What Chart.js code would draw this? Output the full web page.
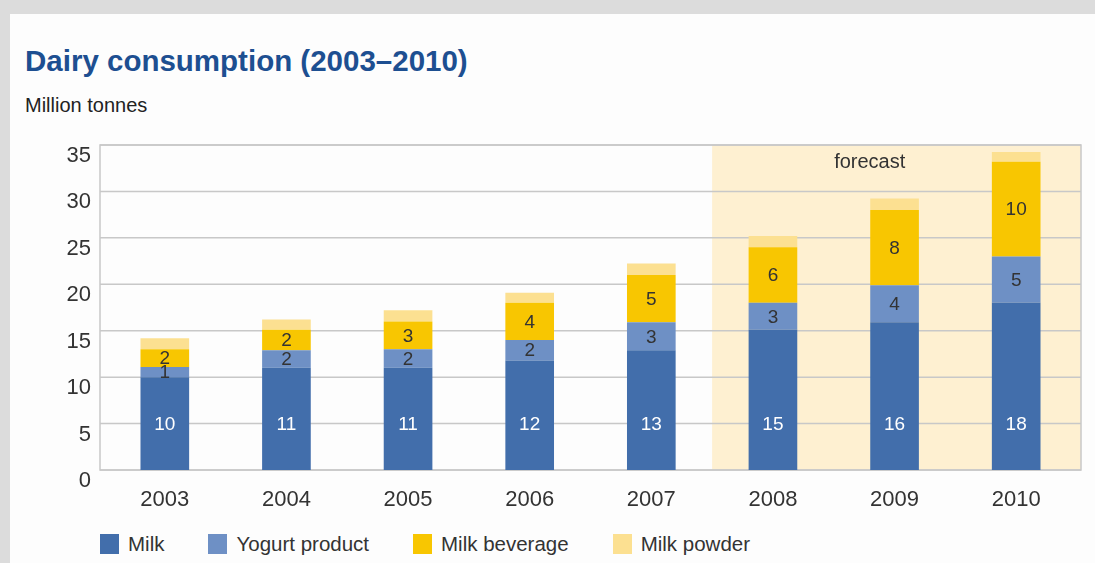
<!DOCTYPE html>
<html>
<head>
<meta charset="utf-8">
<title>Dairy consumption</title>
<script src="https://cdn.jsdelivr.net/npm/chart.js"></script>
<style>
  html, body { margin: 0; padding: 0; }
  body {
    width: 1095px; height: 563px; overflow: hidden; position: relative;
    background: #dcdcdc;
    font-family: "Liberation Sans", Arial, sans-serif;
  }
  #panel { position: absolute; left: 10px; top: 14px; right: 0; bottom: 0; background: #fdfdfd; }
  #title { position: absolute; left: 15px; top: 30px; font-size: 29.5px; font-weight: bold; color: #1d4f91; line-height: 34px; }
  #sub { position: absolute; left: 15px; top: 79px; font-size: 20px; color: #222; line-height: 24px; }
  #wrap { position: absolute; left: 0; top: 0; width: 1085px; height: 496px; }
  #legend { position: absolute; left: 90px; top: 518px; display: flex; font-size: 20.5px; color: #333; line-height: 24px; }
  #legend .item { display: flex; align-items: center; margin-right: 44px; }
  #legend .box { width: 19px; height: 20px; margin-right: 9px; }
</style>
</head>
<body>
<div id="panel">
  <div id="title">Dairy consumption (2003–2010)</div>
  <div id="sub">Million tonnes</div>
  <div id="wrap"><canvas id="chart"></canvas></div>
  <div id="legend"></div>
</div>
<script>
// categories and series (million tonnes)
const years = ['2003', '2004', '2005', '2006', '2007', '2008', '2009', '2010'];
const milk = [10, 11, 11, 11.8, 12.9, 15.1, 15.9, 18];
const yogurt = [1.1, 1.9, 2, 2.2, 3, 2.9, 4, 5];
const beverage = [1.9, 2.2, 3, 4, 5.1, 6, 8.1, 10.2];
const powder = [1.2, 1.1, 1.2, 1.1, 1.25, 1.2, 1.25, 1.05];
const yTicks = [0, 5, 10, 15, 20, 25, 30, 35];
const forecastFrom = '2008';
const milkLabelAt = 5; // milk labels all sit at this level

const seriesNames = ['Milk', 'Yogurt product', 'Milk beverage', 'Milk powder'];
const seriesColors = ['#426eab', '#6e90c5', '#f8c601', '#fce091'];
const labelColors = ['#ffffff', '#333333', '#333333', null];

const FONT = '"Liberation Sans", Arial, sans-serif';
const INSET = 4; // frame sticks out a little past the category band
const GRID = '#c8c8c8';

// forecast zone, grid and frame, all behind the bars
const backdrop = {
  id: 'backdrop',
  beforeDatasetsDraw(chart) {
    const { ctx, chartArea, scales } = chart;
    const left = chartArea.left - INSET, right = chartArea.right + INSET;
    const idx = years.indexOf(forecastFrom);
    const x0 = (scales.x.getPixelForValue(idx - 1) + scales.x.getPixelForValue(idx)) / 2;
    ctx.save();
    ctx.fillStyle = '#fef0d1';
    ctx.fillRect(x0, chartArea.top, right - x0, chartArea.bottom - chartArea.top);
    ctx.fillStyle = '#333';
    ctx.font = '20px ' + FONT;
    ctx.textAlign = 'left';
    ctx.textBaseline = 'middle';
    ctx.fillText('forecast', x0 + 122, chartArea.top + 17);

    ctx.strokeStyle = GRID;
    ctx.lineWidth = 1.5;
    yTicks.forEach(v => {
      const y = scales.y.getPixelForValue(v);
      ctx.beginPath();
      ctx.moveTo(left, y);
      ctx.lineTo(right, y);
      ctx.stroke();
    });
    ctx.strokeRect(left, chartArea.top, right - left, chartArea.bottom - chartArea.top);
    ctx.restore();
  }
};

// value labels inside the segments
const valueLabels = {
  id: 'valueLabels',
  afterDatasetsDraw(chart) {
    const { ctx, scales } = chart;
    ctx.save();
    ctx.font = '19px ' + FONT;
    ctx.textAlign = 'center';
    ctx.textBaseline = 'middle';
    chart.data.datasets.forEach((ds, di) => {
      if (!labelColors[di]) return;
      ctx.fillStyle = labelColors[di];
      chart.getDatasetMeta(di).data.forEach((bar, i) => {
        const y = di === 0 ? scales.y.getPixelForValue(milkLabelAt) : (bar.y + bar.base) / 2;
        ctx.fillText(String(Math.round(ds.data[i])), bar.x, y + 1);
      });
    });
    ctx.restore();
  }
};

const seriesData = [milk, yogurt, beverage, powder];

new Chart(document.getElementById('chart'), {
  type: 'bar',
  data: {
    labels: years,
    datasets: seriesData.map((d, i) => ({
      label: seriesNames[i],
      data: d,
      backgroundColor: seriesColors[i],
      borderWidth: 0,
      barPercentage: 0.4,
      categoryPercentage: 1
    }))
  },
  options: {
    responsive: true,
    maintainAspectRatio: false,
    animation: false,
    layout: { padding: { top: 131, right: 18, left: 0, bottom: 0 } },
    plugins: {
      legend: { display: false },
      tooltip: { enabled: false }
    },
    scales: {
      x: {
        stacked: true,
        grid: { display: false, drawTicks: false },
        border: { display: false },
        ticks: { padding: 17, color: '#333', font: { size: 22, family: FONT } },
        afterFit(s) { s.height = 40; }
      },
      y: {
        stacked: true,
        min: 0,
        max: 35,
        afterBuildTicks(s) { s.ticks = yTicks.map(v => ({ value: v })); },
        grid: { display: false, drawTicks: false },
        border: { display: false },
        ticks: { padding: 13, labelOffset: 11, color: '#333', font: { size: 22, family: FONT } },
        afterFit(s) { s.width = 94; }
      }
    }
  },
  plugins: [backdrop, valueLabels]
});

// legend
const legend = document.getElementById('legend');
seriesNames.forEach((name, i) => {
  const item = document.createElement('div');
  item.className = 'item';
  const box = document.createElement('span');
  box.className = 'box';
  box.style.background = seriesColors[i];
  const txt = document.createElement('span');
  txt.textContent = name;
  item.appendChild(box);
  item.appendChild(txt);
  legend.appendChild(item);
});
</script>
</body>
</html>
